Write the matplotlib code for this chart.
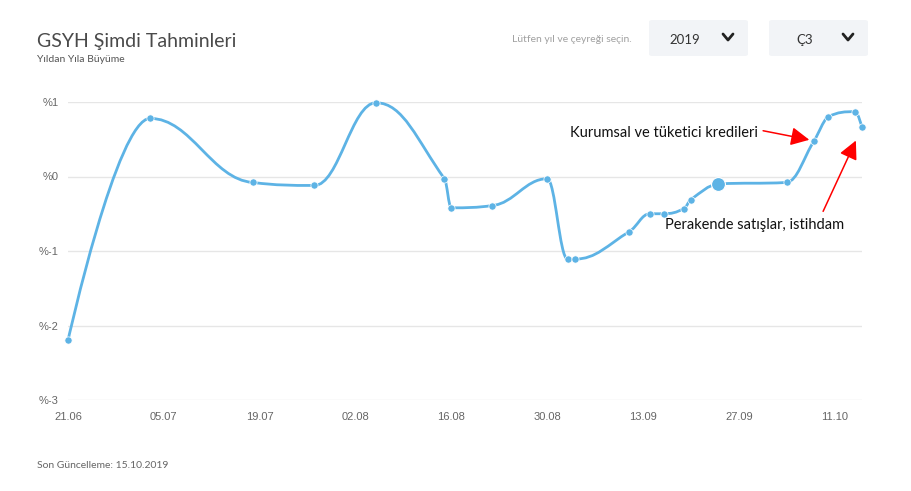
import numpy as np
import pandas as pd
import matplotlib
matplotlib.use("Agg")
from matplotlib import pyplot as plt
import matplotlib.dates as mdates
from matplotlib.path import Path
from matplotlib.patches import PathPatch, FancyBboxPatch
from matplotlib.lines import Line2D

# veri: GSYH şimdi tahminleri (yıllık büyüme, %)
dates = ['21.06.2019', '03.07.2019', '18.07.2019', '27.07.2019', '05.08.2019',
         '15.08.2019', '16.08.2019', '22.08.2019', '30.08.2019', '02.09.2019',
         '03.09.2019', '11.09.2019', '14.09.2019', '16.09.2019', '19.09.2019',
         '20.09.2019', '24.09.2019', '04.10.2019', '08.10.2019', '10.10.2019',
         '14.10.2019', '15.10.2019']
growth = [-2.2, 0.78, -0.08, -0.12, 0.99,
          -0.03, -0.42, -0.39, -0.03, -1.11,
          -1.11, -0.74, -0.50, -0.50, -0.43,
          -0.31, -0.10, -0.08, 0.48, 0.80,
          0.87, 0.66]
tick_dates = ['21.06.2019', '05.07.2019', '19.07.2019', '02.08.2019', '16.08.2019',
              '30.08.2019', '13.09.2019', '27.09.2019', '11.10.2019']
y_ticks = [1, 0, -1, -2, -3]
highlight = '24.09.2019'
note_credit = ('08.10.2019', 'Kurumsal ve tüketici kredileri')
note_retail = ('15.10.2019', 'Perakende satışlar, istihdam')

x = mdates.date2num(pd.to_datetime(dates, format='%d.%m.%Y'))
y = np.array(growth)
xt = mdates.date2num(pd.to_datetime(tick_dates, format='%d.%m.%Y'))


def spline_path(xs, ys, smoothing=1.5):
    # highcharts tarzı yumuşak eğri (bezier kontrol noktaları)
    n = len(xs)
    lcx, lcy, rcx, rcy = list(xs), list(ys), list(xs), list(ys)
    d = smoothing + 1
    for i in range(1, n - 1):
        px, py = xs[i], ys[i]
        ax_, ay_ = xs[i - 1], ys[i - 1]
        nx, ny = xs[i + 1], ys[i + 1]
        lx = (smoothing * px + ax_) / d
        ly = (smoothing * py + ay_) / d
        rx = (smoothing * px + nx) / d
        ry = (smoothing * py + ny) / d
        if rx != lx:
            corr = (ry - ly) * (rx - px) / (rx - lx) + py - ry
            ly += corr
            ry += corr
        if ly > ay_ and ly > py:
            ly = max(ay_, py)
            ry = 2 * py - ly
        elif ly < ay_ and ly < py:
            ly = min(ay_, py)
            ry = 2 * py - ly
        if ry > ny and ry > py:
            ry = max(ny, py)
            ly = 2 * py - ry
        elif ry < ny and ry < py:
            ry = min(ny, py)
            ly = 2 * py - ry
        lcx[i], lcy[i], rcx[i], rcy[i] = lx, ly, rx, ry
    verts = [(xs[0], ys[0])]
    codes = [Path.MOVETO]
    for i in range(1, n):
        verts += [(rcx[i - 1], rcy[i - 1]), (lcx[i], lcy[i]), (xs[i], ys[i])]
        codes += [Path.CURVE4] * 3
    return Path(verts, codes)


blue = '#5DB3E5'
fig = plt.figure(figsize=(9.12, 4.91), dpi=100)
ax = fig.add_axes([68 / 912, 1 - 400 / 491, (862 - 68) / 912, (400 - 102) / 491])

ax.add_patch(PathPatch(spline_path(x, y), fill=False, edgecolor=blue, lw=2.0,
                       clip_on=False, zorder=3, capstyle='round'))
ax.plot(x, y, 'o', color=blue, ms=5.2, mec='white', mew=0.5, clip_on=False, zorder=4)
hx = mdates.date2num(pd.to_datetime(highlight, format='%d.%m.%Y'))
ax.plot([hx], [y[list(x).index(hx)]], 'o', color=blue, ms=10, mec='white', mew=0.8,
        clip_on=False, zorder=5)

ax.set_xlim(x[0], x[-1])
ax.set_ylim(-3, 1)
ax.set_yticks(y_ticks)
ax.set_yticklabels(['%' + str(v) for v in y_ticks])
ax.set_xticks(xt)
ax.xaxis.set_major_formatter(mdates.DateFormatter('%d.%m'))
ax.grid(axis='y', color='#e6e6e6', lw=1)
ax.set_axisbelow(True)
for s in ax.spines.values():
    s.set_visible(False)
ax.tick_params(axis='both', length=0, labelcolor='#666666', labelsize=8)
ax.tick_params(axis='x', pad=9)
ax.tick_params(axis='y', pad=7)
for lab in ax.get_xticklabels() + ax.get_yticklabels():
    lab.set_fontfamily('Liberation Sans')

# oklar ve notlar
ann_font = dict(family='Lato', size=10.5, color='#111111')
for (d, txt), tail, shrink, tpos, ha in [
        (note_credit, (-36.7, 7.2), 3.5, (758, 133), 'right'),
        (note_retail, (-28, -60.5), 10.5, (665, 225), 'left')]:
    dx = mdates.date2num(pd.to_datetime(d, format='%d.%m.%Y'))
    dy = y[list(x).index(dx)]
    ax.annotate('', xy=(dx, dy), xytext=tail, textcoords='offset points',
                arrowprops=dict(arrowstyle='-|>', color='red', lw=1.1,
                                mutation_scale=28, shrinkA=0, shrinkB=shrink),
                annotation_clip=False)
    fig.text(tpos[0] / 912, 1 - tpos[1] / 491, txt, ha=ha, va='center', **ann_font)

# başlık ve arayüz metinleri
fig.text(37 / 912, 1 - 42 / 491, 'GSYH Şimdi Tahminleri', family='Lato', size=14,
         color='#4a4a4a', va='center')
fig.text(37 / 912, 1 - 60 / 491, 'Yıldan Yıla Büyüme', family='Lato', size=7.5,
         color='#555555', va='center')
fig.text(632 / 912, 1 - 40 / 491, 'Lütfen yıl ve çeyreği seçin.', family='Lato', size=7.5,
         color='#a0a0a0', va='center', ha='right')
fig.text(37 / 912, 1 - 465 / 491, 'Son Güncelleme: 15.10.2019', family='Lato', size=7.5,
         color='#666666', va='center')

for x0, label, lx in [(649, '2019', 685), (769, 'Ç3', 805)]:
    box = FancyBboxPatch((x0 / 912, 1 - 56 / 491), 99 / 912, 36 / 491,
                         boxstyle='round,pad=0,rounding_size=0.004',
                         transform=fig.transFigure, facecolor='#f2f4f7',
                         edgecolor='none')
    fig.patches.append(box)
    fig.text(lx / 912, 1 - 40 / 491, label, family='Lato', size=9.5, color='#333333',
             ha='center', va='center')
    cx = x0 + 79
    fig.lines.append(Line2D([(cx - 5) / 912, cx / 912, (cx + 5) / 912],
                            [1 - 34 / 491, 1 - 40 / 491, 1 - 34 / 491],
                            transform=fig.transFigure, color='#222222', lw=2,
                            solid_capstyle='round', solid_joinstyle='round'))

fig.savefig('out.png', dpi=100)
